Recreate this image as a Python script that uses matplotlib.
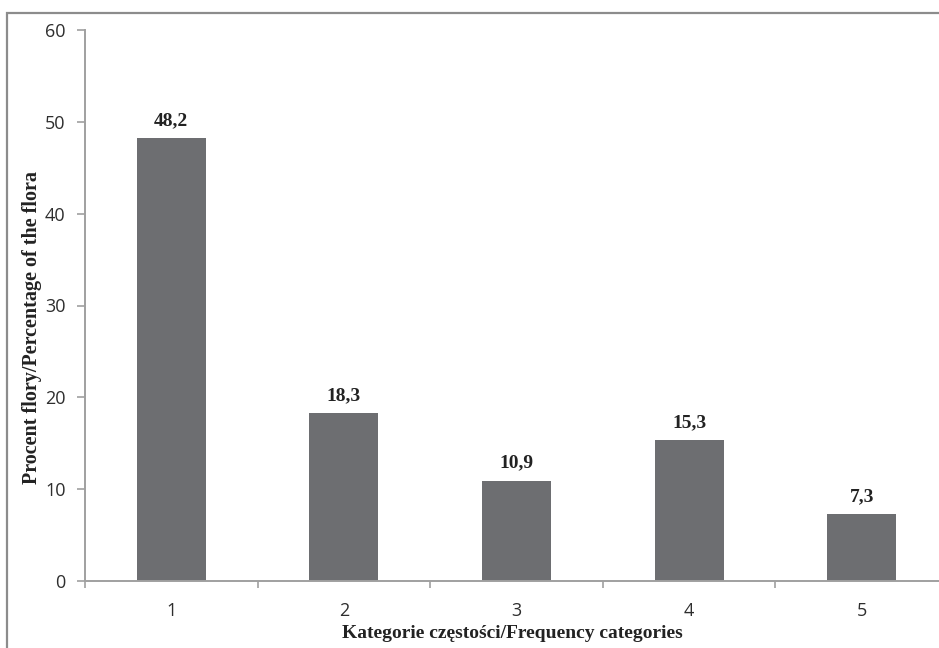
import matplotlib
matplotlib.use("Agg")
import matplotlib.pyplot as plt
import numpy as np
from matplotlib.patches import Rectangle

# data
categories = ["1", "2", "3", "4", "5"]
values = [48.2, 18.3, 10.9, 15.3, 7.3]
value_labels = ["48,2", "18,3", "10,9", "15,3", "7,3"]
y_ticks = [0, 10, 20, 30, 40, 50, 60]

W, H = 939, 648
BAR_COLOR = "#6d6e71"
SPINE_COLOR = "#a0a0a0"
TICK_TEXT = "#2e2e2e"
SERIF = ["Liberation Serif", "DejaVu Serif"]
SANS = ["Open Sans", "DejaVu Sans"]

fig = plt.figure(figsize=(W / 100, H / 100), dpi=100)

# outer frame (left and top edges visible, rest cropped)
fig.patches.append(
    Rectangle((7 / W, -0.2), 1.2, (H - 13) / H + 0.2, transform=fig.transFigure,
              fill=False, edgecolor="#8c8c8c", linewidth=1.6)
)

left, right = 85, 948
top, bottom = 30, 581
ax = fig.add_axes([left / W, (H - bottom) / H, (right - left) / W, (bottom - top) / H])

x = np.arange(len(categories))
ax.bar(x, values, width=0.4, color=BAR_COLOR, zorder=2)

for xi, v, lab in zip(x, values, value_labels):
    ax.annotate(lab, (xi, v), xytext=(0, 9.5), textcoords="offset points",
                ha="center", va="baseline", fontsize=14, fontweight="bold",
                family=SERIF, color="#222222")

ax.set_xlim(-0.5, len(categories) - 0.5)
ax.set_ylim(0, 60)
ax.set_yticks(y_ticks)
ax.set_yticklabels([str(t) for t in y_ticks], family=SANS, fontsize=13, color=TICK_TEXT)
ax.set_xticks(x)
ax.set_xticklabels(categories, family=SANS, fontsize=13, color=TICK_TEXT)
ax.tick_params(axis="x", which="major", length=0, pad=15)
ax.set_xticks(np.arange(-0.5, len(categories)), minor=True)
ax.tick_params(axis="x", which="minor", length=5, color=SPINE_COLOR, width=1.2)
ax.tick_params(axis="y", length=6, color=SPINE_COLOR, width=1.2, pad=8)

for side in ("top", "right"):
    ax.spines[side].set_visible(False)
for side in ("left", "bottom"):
    ax.spines[side].set_color(SPINE_COLOR)
    ax.spines[side].set_linewidth(1.4)

fig.text(32 / W, 1 - 327 / H, "Procent flory/Percentage of the flora", rotation=90,
         ha="center", va="center", fontsize=14.5, fontweight="bold", family=SERIF,
         color="#222222")
fig.text(512 / W, 1 - 633 / H, "Kategorie częstości/Frequency categories",
         ha="center", va="center", fontsize=14, fontweight="bold", family=SERIF,
         color="#222222")

fig.savefig("out.png", dpi=100)
